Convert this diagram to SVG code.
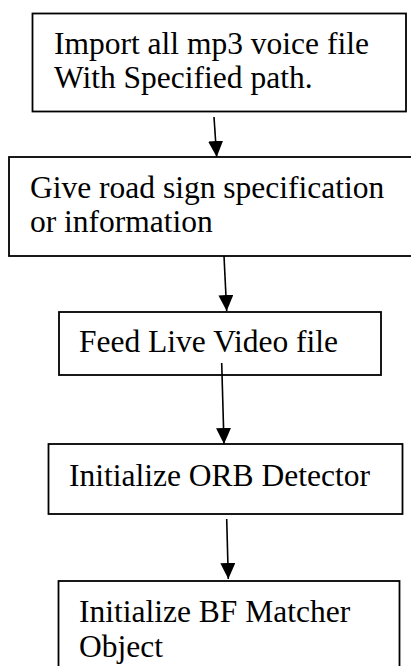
<svg xmlns="http://www.w3.org/2000/svg" width="411" height="666" viewBox="0 0 411 666">
  <style>
    .box { fill: #ffffff; stroke: #000000; stroke-width: 1.8; }
    .label { font-family: "Liberation Serif", "Times New Roman", serif; font-size: 31.5px; fill: #000000; }
    .link { fill: none; stroke: #000000; stroke-width: 1.6; }
  </style>
  <defs>
    <marker id="arrowhead" markerUnits="userSpaceOnUse" viewBox="0 0 16 15" refX="16" refY="7.5" markerWidth="16" markerHeight="15" orient="auto">
      <path d="M0,0 L16,7.5 L0,15 z" fill="#000000"/>
    </marker>
  </defs>
  <rect width="411" height="666" fill="#ffffff"/>

  <g id="node-import">
    <rect class="box" x="32.5" y="13.5" width="373.5" height="98"/>
    <text class="label" x="54" y="54">Import all mp3 voice file</text>
    <text class="label" x="54" y="88">With Specified path.</text>
  </g>

  <g id="node-road-sign">
    <rect class="box" x="9" y="157" width="406" height="99"/>
    <text class="label" x="30" y="198">Give road sign specification</text>
    <text class="label" x="30" y="232">or information</text>
  </g>

  <g id="node-video">
    <rect class="box" x="59" y="312" width="322" height="63"/>
    <text class="label" x="79" y="352">Feed Live Video file</text>
  </g>

  <g id="node-orb">
    <rect class="box" x="48.5" y="444" width="354" height="70"/>
    <text class="label" x="69" y="485.5">Initialize ORB Detector</text>
  </g>

  <g id="node-bf">
    <rect class="box" x="58.5" y="581" width="341" height="95"/>
    <text class="label" x="79" y="621.5">Initialize BF Matcher</text>
    <text class="label" x="79" y="656.5">Object</text>
  </g>

  <g id="connectors">
    <path class="link" d="M214,117 L216.7,157" marker-end="url(#arrowhead)"/>
    <path class="link" d="M224,256 L226.7,311" marker-end="url(#arrowhead)"/>
    <path class="link" d="M221.7,363 L224,444" marker-end="url(#arrowhead)"/>
    <path class="link" d="M226.7,519 L228.3,579" marker-end="url(#arrowhead)"/>
  </g>
</svg>
